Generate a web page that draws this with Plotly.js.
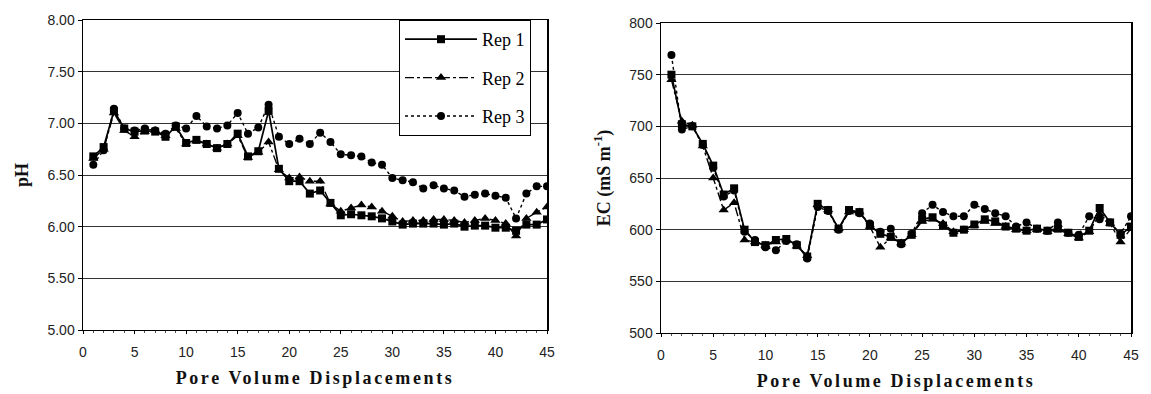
<!DOCTYPE html>
<html>
<head>
<meta charset="utf-8">
<script src="https://cdn.plot.ly/plotly-3.0.1.min.js"></script>
<style>html,body{margin:0;padding:0;background:#fff;}#chart{width:1151px;height:394px;}</style>
</head>
<body>
<div id="chart"></div>
<script>
const pvd = [1,2,3,4,5,6,7,8,9,10,11,12,13,14,15,16,17,18,19,20,21,22,23,24,25,26,27,28,29,30,31,32,33,34,35,36,37,38,39,40,41,42,43,44,45];
const seriesNames = ["Rep 1", "Rep 2", "Rep 3"];

const rep1pH = [6.68,6.77,7.12,6.95,6.92,6.93,6.92,6.87,6.97,6.81,6.84,6.80,6.76,6.80,6.90,6.68,6.73,7.12,6.56,6.44,6.44,6.32,6.35,6.23,6.11,6.12,6.11,6.10,6.08,6.05,6.02,6.03,6.03,6.03,6.02,6.03,6.00,6.01,6.01,5.99,5.99,5.96,6.02,6.02,6.07];
const rep2pH = [6.66,6.75,7.10,6.93,6.87,6.92,6.93,6.88,6.95,6.80,6.83,6.80,6.76,6.80,6.88,6.67,6.72,6.82,6.55,6.47,6.48,6.44,6.44,6.22,6.15,6.18,6.21,6.19,6.15,6.10,6.05,6.06,6.06,6.07,6.07,6.06,6.04,6.06,6.08,6.06,6.03,5.91,6.08,6.14,6.19];
const rep3pH = [6.60,6.74,7.14,6.95,6.93,6.95,6.93,6.90,6.98,6.95,7.07,6.97,6.95,6.98,7.10,6.90,6.96,7.18,6.87,6.80,6.85,6.80,6.91,6.82,6.70,6.69,6.68,6.62,6.60,6.47,6.45,6.43,6.37,6.40,6.37,6.35,6.29,6.31,6.32,6.30,6.28,6.08,6.32,6.39,6.39];

const rep1EC = [750,702,700,683,662,634,640,600,588,585,590,591,585,574,625,619,601,619,617,604,596,593,587,595,610,612,604,597,600,605,610,608,603,601,599,601,599,601,597,593,599,621,607,595,603];
const rep2EC = [745,705,701,681,650,619,626,590,588,585,588,590,584,575,624,619,601,617,617,603,583,592,587,595,608,610,606,598,600,604,608,606,603,600,599,600,598,600,596,592,598,615,606,588,601];
const rep3EC = [769,697,700,682,660,632,638,598,590,583,580,589,586,572,622,618,600,618,616,606,598,601,586,596,616,624,617,613,613,624,620,616,613,603,607,601,599,607,597,595,613,610,607,596,613];

const xTitle = "Pore Volume Displacements";
const yTitleL = "pH";
const yTitleR = "EC (mS m<sup>-1</sup>)";

const styles = [
  {line:{color:'#000', width:1.7, dash:'solid'}, marker:{symbol:'square', size:8, color:'#000'}},
  {line:{color:'#000', width:1.4, dash:'dashdot'}, marker:{symbol:'triangle-up', size:9, color:'#000'}},
  {line:{color:'#000', width:1.4, dash:'dot'}, marker:{symbol:'circle', size:8, color:'#000'}}
];

const leftData = [rep1pH, rep2pH, rep3pH];
const rightData = [rep1EC, rep2EC, rep3EC];
const traces = [];
leftData.forEach((ys, i) => traces.push(Object.assign({
  x: pvd, y: ys, name: seriesNames[i], type:'scatter', mode:'lines+markers',
  xaxis:'x', yaxis:'y', legendgroup:'g'+i, showlegend:true
}, JSON.parse(JSON.stringify(styles[i])))));
rightData.forEach((ys, i) => traces.push(Object.assign({
  x: pvd, y: ys, name: seriesNames[i], type:'scatter', mode:'lines+markers',
  xaxis:'x2', yaxis:'y2', legendgroup:'g'+i, showlegend:false
}, JSON.parse(JSON.stringify(styles[i])))));

const W = 1151, H = 394;
const tickFont = {family:'"Liberation Sans", Arial, sans-serif', size:14, color:'#222'};
const titleFont = {family:'"Liberation Serif", "Times New Roman", serif', size:18, color:'#111', weight:'bold'};

function xax(dom, anchor) {
  return {
    domain: dom, anchor: anchor, range:[0,45], dtick:5, tick0:0,
    showgrid:false, zeroline:false, showline:true, mirror:true, linecolor:'#000', linewidth:1,
    ticks:'outside', ticklen:3, tickcolor:'#000', tickfont: tickFont, ticklabelstandoff:6,
    minor:{dtick:1, ticks:'outside', ticklen:2, tickcolor:'#555', showgrid:false},
    title:{text:xTitle, font:titleFont, standoff:12}
  };
}
function yax(dom, anchor, range, dtick, fmt, title) {
  return {
    domain: dom, anchor: anchor, range: range, dtick: dtick, tickformat: fmt,
    showgrid:true, gridcolor:'#333', gridwidth:1, zeroline:false,
    showline:true, mirror:true, linecolor:'#000', linewidth:1.5,
    ticks:'outside', ticklen:4, tickcolor:'#000', tickfont: tickFont,
    title:{text:title, font:titleFont, standoff:14}
  };
}

const layout = {
  width: W, height: H,
  margin:{l:0, r:0, t:0, b:0},
  paper_bgcolor:'#fff', plot_bgcolor:'#fff',
  showlegend:true,
  xaxis: xax([83/W, 547/W], 'y'),
  yaxis: yax([(H-330)/H, (H-20)/H], 'x', [5,8], 0.5, '.2f', yTitleL),
  xaxis2: xax([661/W, 1131/W], 'y2'),
  yaxis2: yax([(H-333)/H, (H-23)/H], 'x2', [500,800], 50, 'd', yTitleR),
  legend:{
    x: 399/W, y: (H-20)/H, xanchor:'left', yanchor:'top',
    bordercolor:'#000', borderwidth:1, bgcolor:'#fff',
    font:{family:'"Liberation Serif", "Times New Roman", serif', size:18, color:'#000'},
    itemwidth:72, traceorder:'grouped', tracegroupgap:12
  }
};

Plotly.newPlot('chart', traces, layout, {staticPlot:true, displayModeBar:false}).then(() => {
  document.querySelectorAll('.g-xtitle text, .g-x2title text').forEach(t => {
    t.style.letterSpacing = '2.6px';
  });
});
</script>
</body>
</html>
